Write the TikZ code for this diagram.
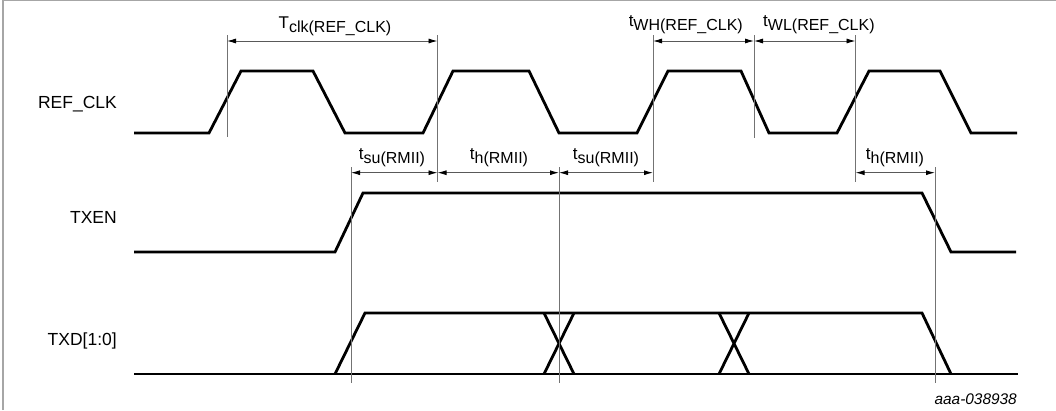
\documentclass[tikz,border=0pt]{standalone}
\usepackage{fontspec}
\setmainfont{Liberation Sans}
\usepackage{tikz}
\usetikzlibrary{arrows.meta,positioning,calc}
\tikzset{
  signal/.style={
    line width=2.8pt,
    draw=black
  },
  guide/.style={
    line width=0.9pt,
    draw=black!55
  },
  dimarrow/.style={
    line width=0.9pt,
    draw=black!65,
    {Latex[length=9pt,width=5pt,color=black]}-{Latex[length=9pt,width=5pt,color=black]}
  },
  signame/.style={
    anchor=base east,
    inner sep=0pt,
    font=\fontsize{17.5}{20}\selectfont
  },
  timing/.style={
    anchor=base,
    inner sep=0pt,
    font=\fontsize{17}{19}\selectfont
  }
}
\newcommand{\tsub}[1]{\raisebox{-3.8pt}{\fontsize{16}{17}\selectfont #1}}

\begin{document}
\begin{tikzpicture}[x=1pt, y=-1pt]
 \useasboundingbox (0,0) rectangle (1056,410);
 \draw[line width=1.2pt, black!35] (3,410) -- (3,0.6) -- (1056,0.6);
 % signal names
 \node[signame] (refclk) at (117,108.3) {REF\_CLK};
 \node[signame] (txen) at (117,223.3) {TXEN};
 \node[signame] (txd) at (117,345) {TXD[1:0]};
 % waveforms
 \draw[signal] (134,133) -- (209,133) -- (241,71) -- (313,71) -- (345,133)
   -- (423,133) -- (453,71) -- (529,71) -- (559,133) -- (637,133) -- (668,71)
   -- (741,71) -- (769,133) -- (837,133) -- (869,71) -- (940,71) -- (971,133)
   -- (1017,133);
 \draw[signal] (134,252) -- (335,252) -- (363,193) -- (922,193) -- (951,252)
   -- (1016,252);
 \draw[signal] (134,374) -- (1018,374);
 \draw[signal] (335,374) -- (365,313) -- (922,313) -- (951,374);
 \draw[signal] (544,313) -- (574,374) (544,374) -- (574,313);
 \draw[signal] (719,313) -- (749,374) (719,374) -- (749,313);
 % guide lines
 \coordinate (v1) at (227,35);
 \coordinate (v2) at (437.5,35);
 \coordinate (v3) at (653,35);
 \coordinate (v4) at (754,35);
 \coordinate (v5) at (855.5,35);
 \coordinate (w1) at (351,167);
 \coordinate (w2) at (559,167);
 \coordinate (w3) at (935,167);
 \coordinate (toprow) at (0,41);
 \coordinate (midrow) at (0,172.7);
 \draw[guide] (v1) -- (v1 |- 0,137);
 \draw[guide] (v2) -- (v2 |- 0,182);
 \draw[guide] (v3) -- (v3 |- 0,182);
 \draw[guide] (v4) -- (v4 |- 0,138);
 \draw[guide] (v5) -- (v5 |- 0,182);
 \draw[guide] (w1) -- (w1 |- 0,383);
 \draw[guide] (w2) -- (w2 |- 0,383);
 \draw[guide] (w3) -- (w3 |- 0,383);
 % timing arrows
 \draw[dimarrow] (v1 |- toprow) -- (v2 |- toprow);
 \draw[dimarrow] (v3 |- toprow) -- (v4 |- toprow);
 \draw[dimarrow] (v4 |- toprow) -- (v5 |- toprow);
 \draw[dimarrow] (w1 |- midrow) -- (v2 |- midrow);
 \draw[dimarrow] (v2 |- midrow) -- (w2 |- midrow);
 \draw[dimarrow] (w2 |- midrow) -- (v3 |- midrow);
 \draw[dimarrow] (v5 |- midrow) -- (w3 |- midrow);
 % timing labels
 \node[timing] (tclk) at (335,28.3) {T\tsub{clk(REF\_CLK)}};
 \node[timing, anchor=base east] (twh) at (743,26.5) {t\tsub{WH(REF\_CLK)}};
 \node[timing, anchor=base west] (twl) at (763,26.5) {t\tsub{WL(REF\_CLK)}};
 \node[timing] (tsua) at (392,159.3) {t\tsub{su(RMII)}};
 \node[timing] (tha) at (499,159.3) {t\tsub{h(RMII)}};
 \node[timing] (tsub) at (606,159.3) {t\tsub{su(RMII)}};
 \node[timing] (thb) at (895,159.3) {t\tsub{h(RMII)}};
 % figure id
 \node[anchor=base east, inner sep=0pt, font=\fontsize{15.4}{18}\selectfont\itshape]
   (figid) at (1017,404) {aaa-038938};
\end{tikzpicture}
\end{document}
